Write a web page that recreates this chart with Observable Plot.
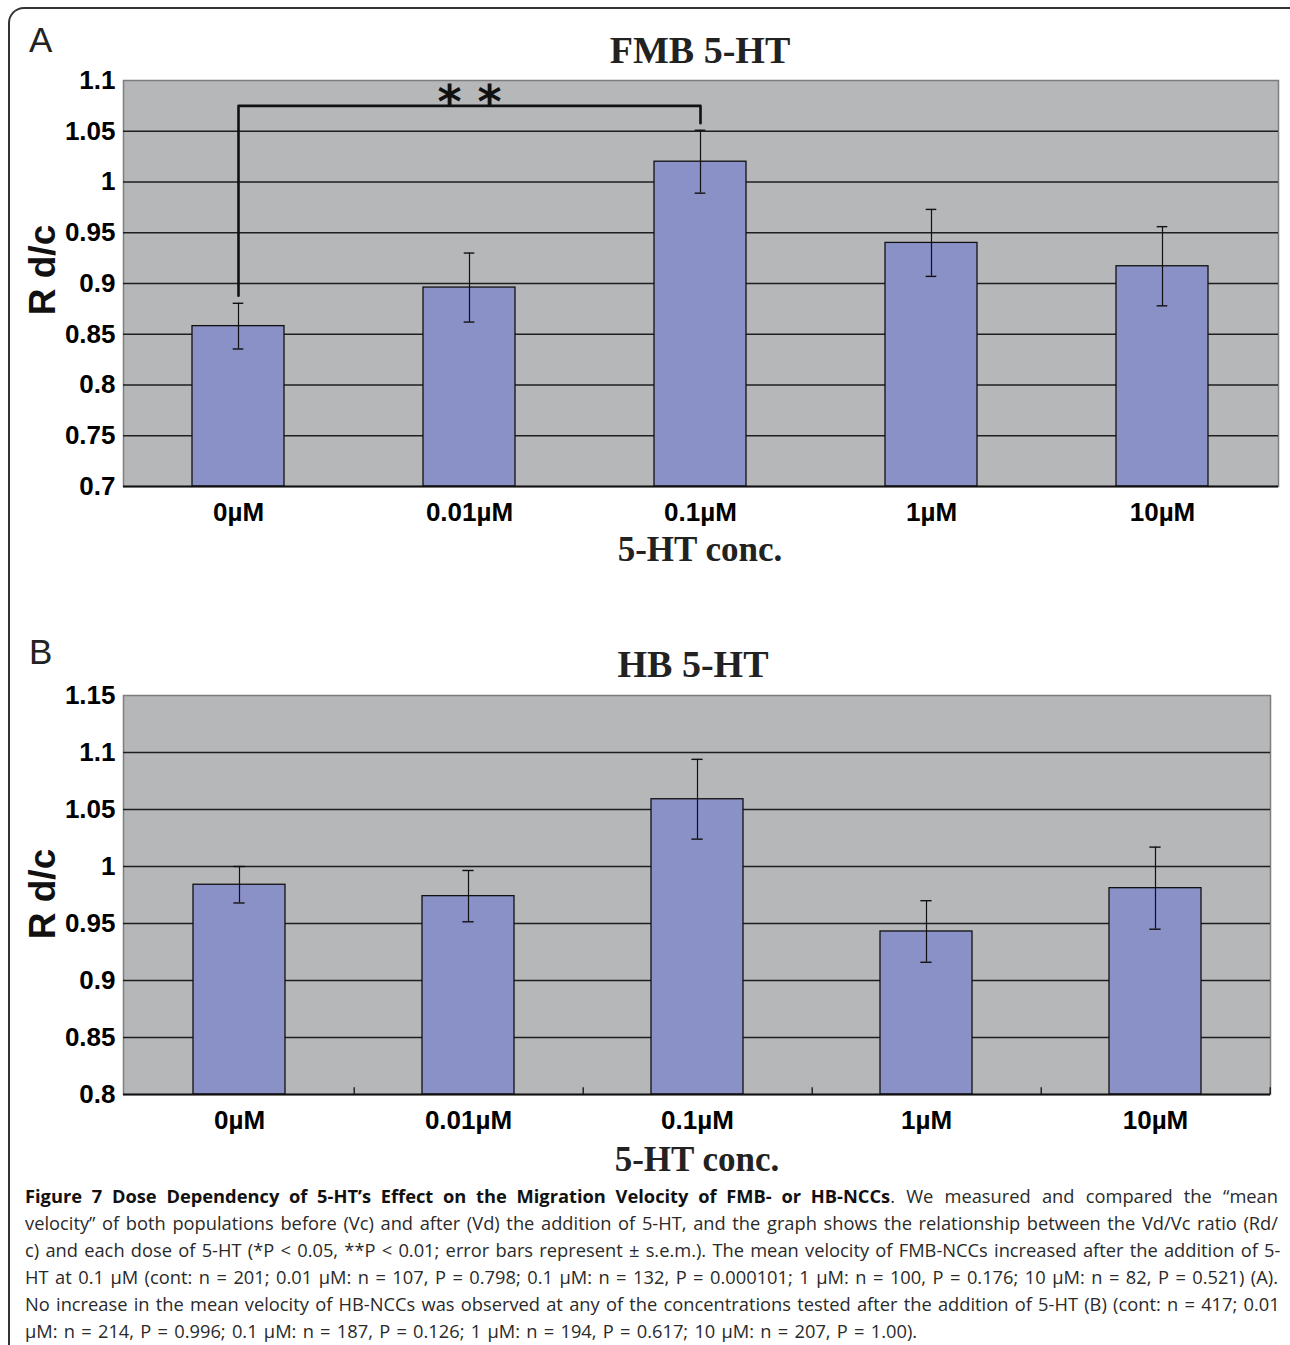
<!DOCTYPE html>
<html><head><meta charset="utf-8">
<script src="https://cdn.jsdelivr.net/npm/d3@7"></script>
<script src="https://cdn.jsdelivr.net/npm/@observablehq/plot@0.6"></script>
<style>
body{margin:0;background:#fff;}
#page{position:relative;width:1290px;height:1345px;overflow:hidden;font-family:"Liberation Sans",Arial,sans-serif;background:#fff;}
.frame{position:absolute;left:8px;top:7px;width:1320px;height:1400px;border-top:2px solid #333;border-left:2px solid #333;border-top-left-radius:16px;box-sizing:border-box;}
.plabel{position:absolute;left:29px;font-size:35px;line-height:1;color:#222;font-family:"Liberation Sans",Arial,sans-serif;}
.title{position:absolute;transform:translateX(-50%);font-family:"Liberation Serif","Times New Roman",serif;font-weight:bold;line-height:1;color:#222;white-space:nowrap;}
.ylab{position:absolute;font-family:"Liberation Sans",Arial,sans-serif;font-weight:bold;font-size:37px;line-height:1;color:#111;white-space:nowrap;transform:translate(-50%,-50%) rotate(-90deg);}
.chart{position:absolute;left:0;}
.cap{position:absolute;left:25px;width:1253px;font-family:"Open Sans","Noto Sans",sans-serif;font-size:18.3px;word-spacing:1.5px;color:#2a2a2a;}
.cap div{height:27px;line-height:27px;text-align:justify;text-align-last:justify;white-space:nowrap;}
.cap div.last{text-align-last:left;}
.cap b{color:#111;word-spacing:0;}
</style>
</head><body>
<div id="page">
  <div class="frame"></div>
  <div class="plabel" style="top:22px">A</div>
  <div class="plabel" style="top:634px">B</div>
  <div class="title" style="left:700px;top:31px;font-size:38px">FMB 5-HT</div>
  <div class="title" style="left:700px;top:532px;font-size:35px">5-HT conc.</div>
  <div class="title" style="left:693px;top:645px;font-size:38px">HB 5-HT</div>
  <div class="title" style="left:697px;top:1142px;font-size:35px">5-HT conc.</div>
  <div class="ylab" style="left:42px;top:270px">R d/c</div>
  <div class="ylab" style="left:42px;top:894px">R d/c</div>
  <div id="chartA" class="chart" style="top:60px"></div>
  <div id="chartB" class="chart" style="top:675px"></div>
  <div class="cap" style="top:1182px">
    <div><b>Figure 7 Dose Dependency of 5-HT’s Effect on the Migration Velocity of FMB- or HB-NCCs</b>. We measured and compared the “mean</div>
    <div>velocity” of both populations before (Vc) and after (Vd) the addition of 5-HT, and the graph shows the relationship between the Vd/Vc ratio (Rd/</div>
    <div>c) and each dose of 5-HT (*P &lt; 0.05, **P &lt; 0.01; error bars represent ± s.e.m.). The mean velocity of FMB-NCCs increased after the addition of 5-</div>
    <div>HT at 0.1 μM (cont: n = 201; 0.01 μM: n = 107, P = 0.798; 0.1 μM: n = 132, P = 0.000101; 1 μM: n = 100, P = 0.176; 10 μM: n = 82, P = 0.521) (A).</div>
    <div>No increase in the mean velocity of HB-NCCs was observed at any of the concentrations tested after the addition of 5-HT (B) (cont: n = 417; 0.01</div>
    <div class="last">μM: n = 214, P = 0.996; 0.1 μM: n = 187, P = 0.126; 1 μM: n = 194, P = 0.617; 10 μM: n = 207, P = 1.00).</div>
  </div>
</div>
<script>
// ---- data ----
const categories = ["0µM", "0.01µM", "0.1µM", "1µM", "10µM"];
const fmbMean = [0.858, 0.896, 1.020, 0.940, 0.917];
const fmbSem  = [0.0225, 0.034, 0.031, 0.033, 0.039];
const hbMean  = [0.984, 0.974, 1.059, 0.943, 0.981];
const hbSem   = [0.016, 0.0225, 0.035, 0.027, 0.036];
const yTicksA = [0.7, 0.75, 0.8, 0.85, 0.9, 0.95, 1, 1.05, 1.1];
const yTicksB = [0.8, 0.85, 0.9, 0.95, 1, 1.05, 1.1, 1.15];
// significance bracket (0µM vs 0.1µM), y values in data units
const bracketX = ["0µM", "0µM", "0.1µM", "0.1µM"];
const bracketY = [0.888, 1.075, 1.075, 1.058];
const sigLabel = "* *";
const sigAt = "0.01µM";

// ---- styles ----
const BG = "#b6b7b9";
const BAR = "#8991c7";
const GRID = "#1e1e1e";

function rowsOf(means, sems) {
  return categories.map((c, i) => ({cat: c, mean: means[i], lo: means[i] - sems[i], hi: means[i] + sems[i]}));
}

function makePanel({means, sems, yTicks, width, marginRight, height, plotH, boundaryTicks, bracket}) {
  const marginLeft = 123, marginTop = 20;
  const marginBottom = height - marginTop - plotH;
  const rows = rowsOf(means, sems);
  const yMin = yTicks[0], yMax = yTicks[yTicks.length - 1];
  const step = (width - marginLeft - marginRight) / categories.length;
  const bw = step * 0.4;
  const capInset = (bw - 11) / 2;
  const marks = [
    Plot.frame({fill: BG, stroke: "#7d7d7d", strokeWidth: 1.5}),
    Plot.ruleY(yTicks.slice(1, -1), {stroke: GRID, strokeWidth: 1.3}),
    Plot.barY(rows, {x: "cat", y1: yMin, y2: "mean", fill: BAR, stroke: "#111", strokeWidth: 1.3}),
    Plot.ruleX(rows, {x: "cat", y1: "lo", y2: "hi", stroke: "#111", strokeWidth: 1.2}),
    Plot.tickY(rows, {x: "cat", y: "hi", stroke: "#111", strokeWidth: 1.4, insetLeft: capInset, insetRight: capInset}),
    Plot.tickY(rows, {x: "cat", y: "lo", stroke: "#111", strokeWidth: 1.4, insetLeft: capInset, insetRight: capInset}),
    Plot.ruleY([yMin], {stroke: "#111", strokeWidth: 2})
  ];
  if (boundaryTicks) {
    marks.push(Plot.ruleX(categories, {x: d => d, dx: step / 2, y1: yMin, y2: yMin + 0.006, stroke: "#111", strokeWidth: 1.3}));
  }
  if (bracket) {
    const pts = bracketX.map((x, i) => ({x, y: bracketY[i]}));
    marks.push(Plot.line(pts, {x: "x", y: "y", stroke: "#111", strokeWidth: 2.6, curve: "linear"}));
    marks.push(Plot.text([{x: sigAt, y: bracketY[1], t: sigLabel}], {x: "x", y: "y", text: "t", fontSize: 46, fontWeight: "bold", fill: "#111", dy: -3, fontFamily: "DejaVu Sans, sans-serif"}));
  }
  return Plot.plot({
    width, height, marginLeft, marginRight, marginTop, marginBottom,
    style: {fontFamily: "Liberation Sans, Arial, sans-serif", fontSize: "26px", fontWeight: "bold", color: "#000", background: "transparent", overflow: "visible"},
    x: {domain: categories, paddingInner: 0.6, paddingOuter: 0.3, label: null, tickSize: 0, tickPadding: 16},
    y: {domain: [yMin, yMax], ticks: yTicks, tickFormat: d => String(d), label: null, tickSize: 0, tickPadding: 8, line: true},
    marks
  });
}

document.getElementById("chartA").appendChild(makePanel({
  means: fmbMean, sems: fmbSem, yTicks: yTicksA, width: 1290, marginRight: 12, height: 480, plotH: 406, boundaryTicks: false, bracket: true
}));
document.getElementById("chartB").appendChild(makePanel({
  means: hbMean, sems: hbSem, yTicks: yTicksB, width: 1290, marginRight: 20, height: 473, plotH: 399, boundaryTicks: true, bracket: false
}));
</script>
</body></html>
